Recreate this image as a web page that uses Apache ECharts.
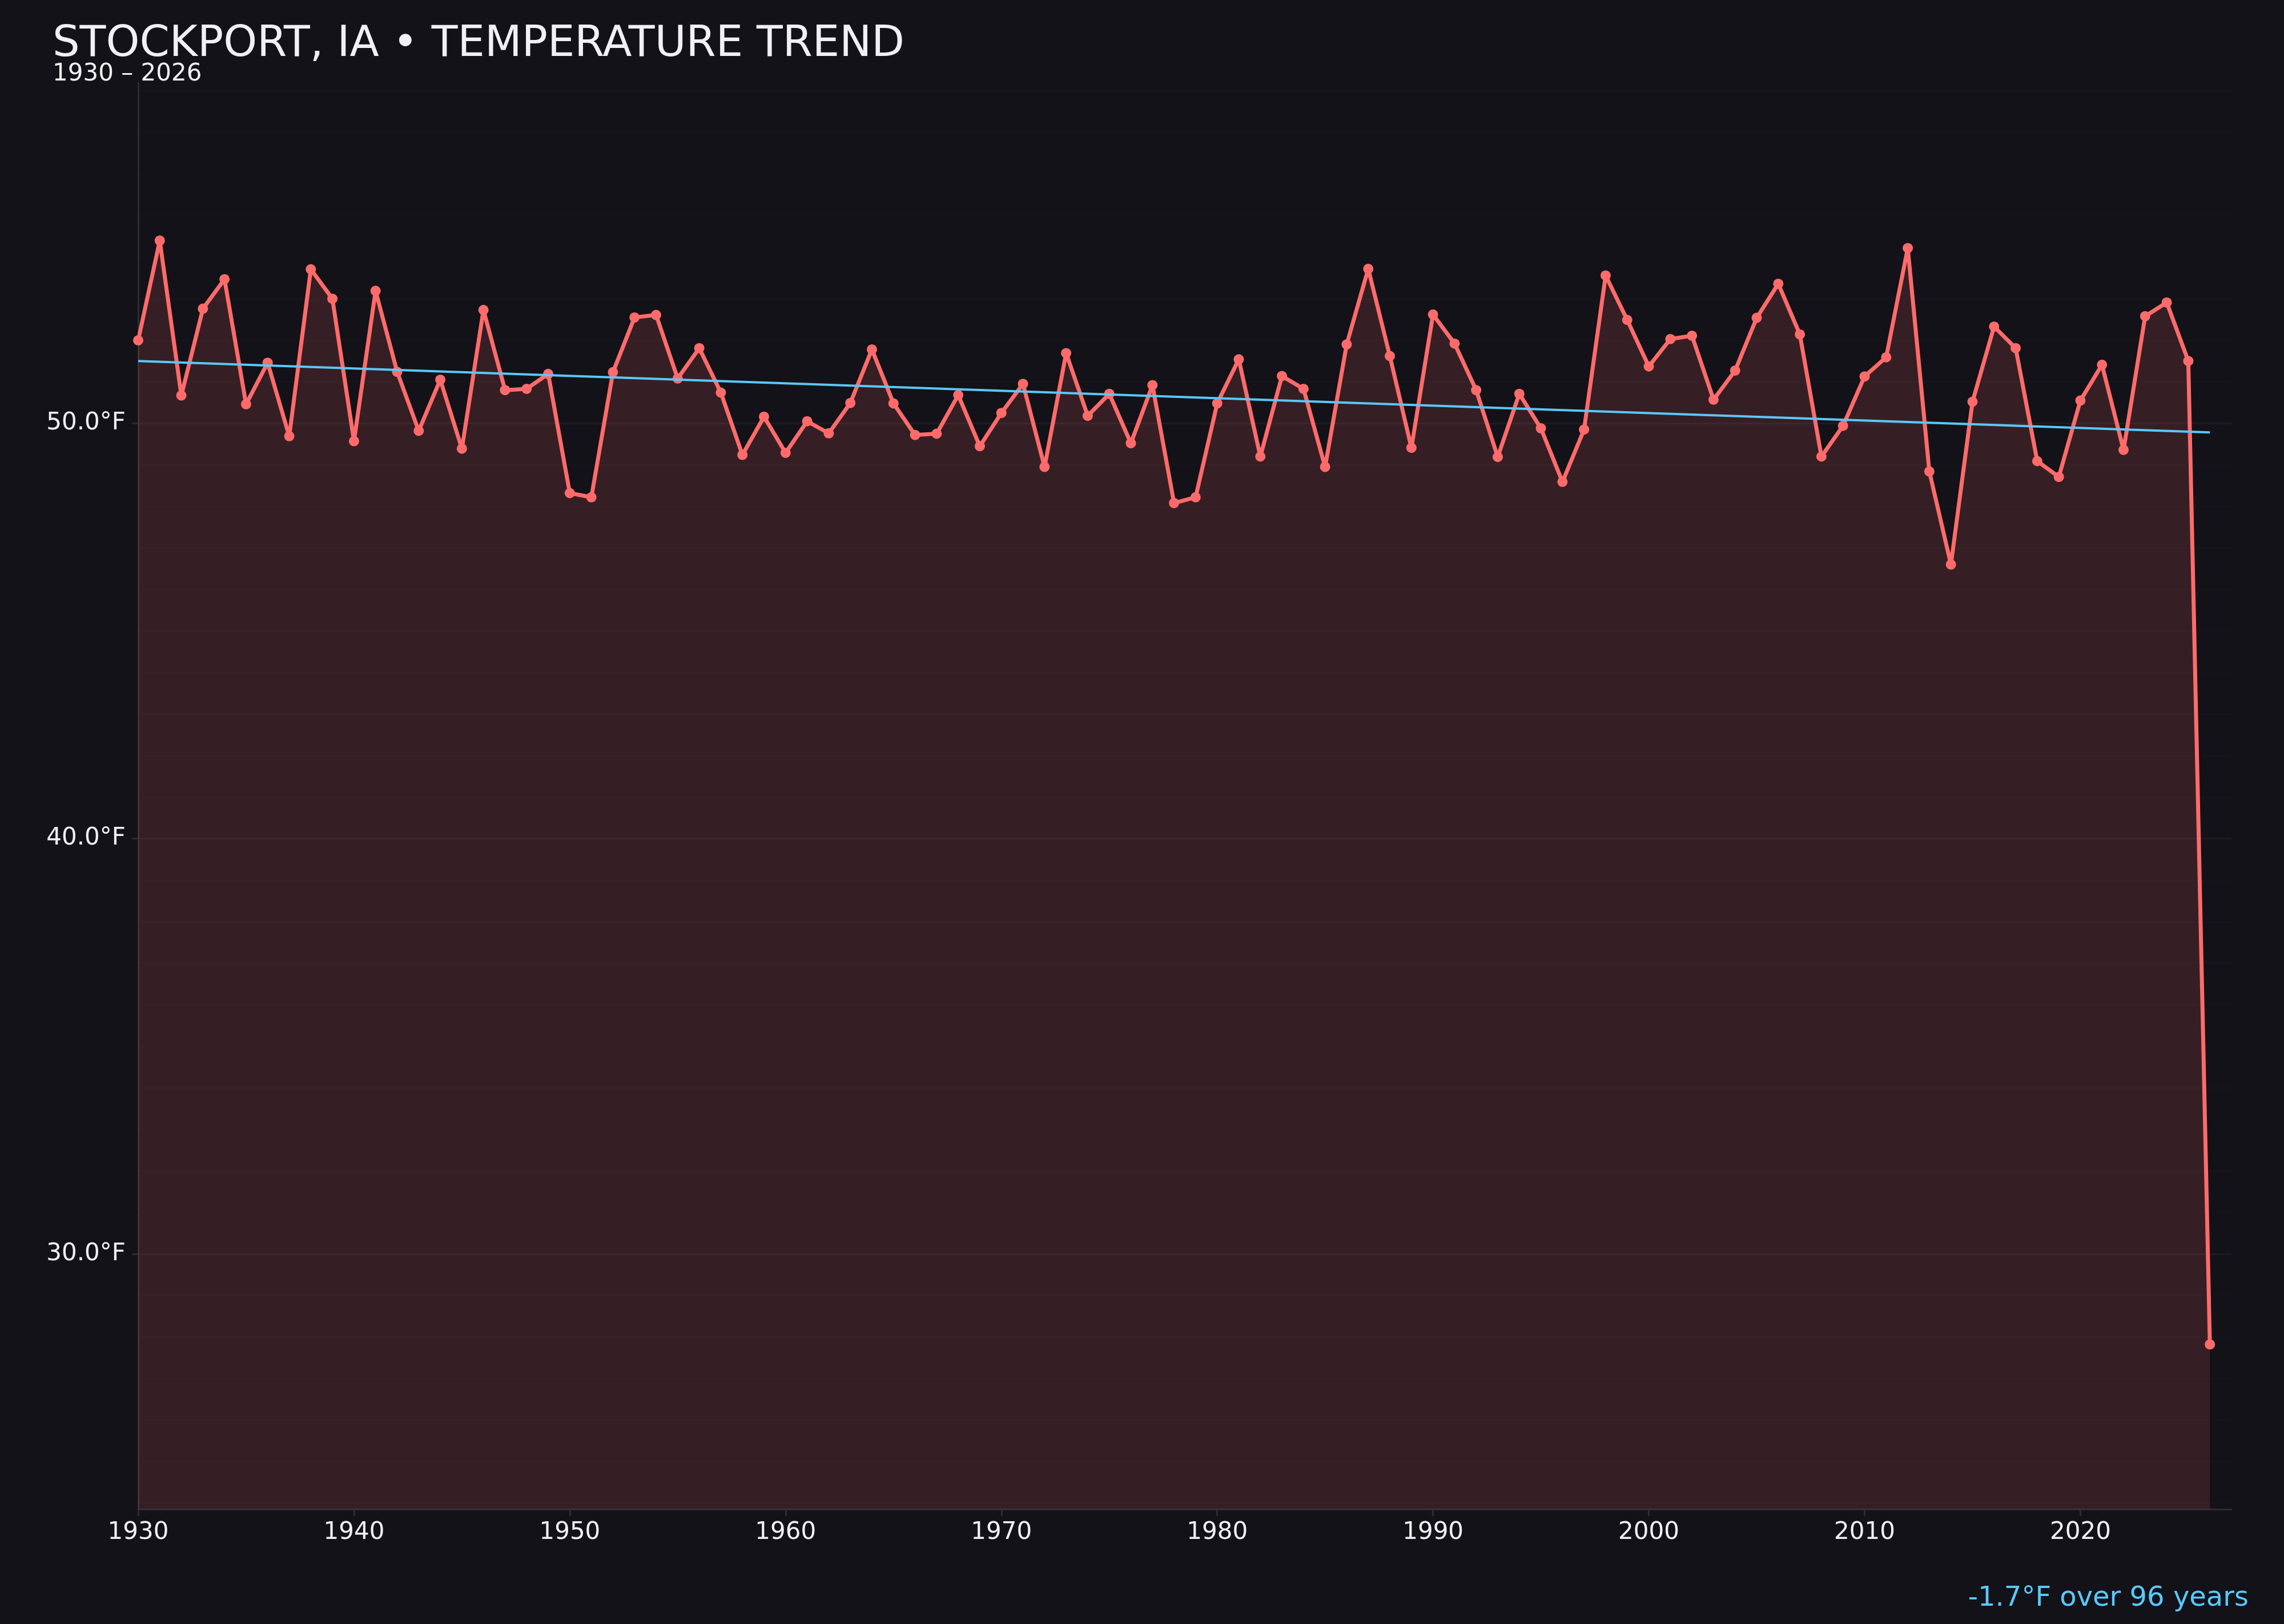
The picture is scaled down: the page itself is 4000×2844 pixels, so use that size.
<!DOCTYPE html>
<html>
<head>
<meta charset="utf-8">
<style>
  html, body { margin: 0; padding: 0; background: #121218; }
  #chartmain { width: 4000px; height: 2844px; }
</style>
<script src="https://cdn.jsdelivr.net/npm/echarts@6/dist/echarts.min.js"></script>
</head>
<body>
<div id="chartmain"></div>
<script>
// yearly mean temperature, 1930 .. 2026
var startYear = 1930;
var temps = [
  52.00, 54.40, 50.67, 52.76, 53.47, 50.46, 51.46, 49.69, 53.71, 53.00,
  49.57, 53.19, 51.24, 49.82, 51.05, 49.39, 52.73, 50.80, 50.83, 51.19,
  48.32, 48.22, 51.23, 52.55, 52.61, 51.08, 51.81, 50.74, 49.24, 50.16,
  49.29, 50.05, 49.76, 50.49, 51.78, 50.48, 49.72, 49.75, 50.68, 49.45,
  50.25, 50.95, 48.95, 51.69, 50.18, 50.71, 49.52, 50.92, 48.08, 48.22,
  50.48, 51.54, 49.20, 51.14, 50.83, 48.95, 51.90, 53.72, 51.62, 49.41,
  52.62, 51.92, 50.80, 49.19, 50.71, 49.88, 48.59, 49.85, 53.56, 52.49,
  51.37, 52.03, 52.11, 50.57, 51.27, 52.54, 53.36, 52.14, 49.20, 49.94,
  51.13, 51.59, 54.22, 48.84, 46.60, 50.52, 52.33, 51.81, 49.09, 48.71,
  50.55, 51.41, 49.36, 52.58, 52.91, 51.50, 27.82
];
// trend line end points
var trendYears = [1930, 2026];
var trendTemps = [51.50, 49.78];

// axis ticks
var yearTicks = [1930, 1940, 1950, 1960, 1970, 1980, 1990, 2000, 2010, 2020];
var tempTicks = [30, 40, 50];
var gridTemps = [];
for (var g = 24; g <= 58; g++) gridTemps.push(g);
var yMin = 23.85, yMax = 58.2;
var xMin = 1930, xMax = 2027;

var tempData = [];
for (var i = 0; i < temps.length; i++) {
  tempData.push([startYear + i, temps[i]]);
}
var trendData = [];
for (var j = 0; j < trendYears.length; j++) {
  trendData.push([trendYears[j], trendTemps[j]]);
}

var font = 'DejaVu Sans';
var axisColor = '#2c2c36';
var textColor = '#f0f0f5';

var option = {
  backgroundColor: '#121218',
  animation: false,
  textStyle: { fontFamily: font },
  grid: { left: 242, right: 92, top: 145, bottom: 201 },
  xAxis: {
    type: 'value',
    min: xMin,
    max: xMax,
    axisLine: { onZero: false, lineStyle: { color: axisColor, width: 3 } },
    axisTick: { customValues: yearTicks, length: 12, lineStyle: { color: axisColor, width: 3 } },
    axisLabel: {
      customValues: yearTicks, color: textColor, fontSize: 42, margin: 20,
      formatter: function (v) { return String(v); }
    },
    splitLine: { show: false }
  },
  yAxis: [{
    type: 'value',
    min: yMin,
    max: yMax,
    axisLine: { show: true, lineStyle: { color: axisColor, width: 3 } },
    axisTick: { show: true, customValues: tempTicks, length: 11, lineStyle: { color: axisColor, width: 3 } },
    axisLabel: {
      customValues: tempTicks,
      color: textColor,
      fontSize: 42,
      margin: 22,
      formatter: function (v) { return v.toFixed(1) + '°F'; }
    },
    splitLine: { show: true, lineStyle: { color: 'rgba(255,255,255,0.035)', width: 3 } }
  }, {
    // only for the faint 1°F grid
    type: 'value',
    min: yMin,
    max: yMax,
    position: 'left',
    axisLine: { show: false },
    axisTick: { show: false, customValues: gridTemps },
    axisLabel: { show: false },
    splitLine: { show: true, lineStyle: { color: 'rgba(255,255,255,0.013)', width: 3 } }
  }],
  series: [{
    name: 'temp',
    type: 'line',
    data: tempData,
    symbol: 'circle',
    symbolSize: 18,
    itemStyle: { color: '#ff6b6b' },
    lineStyle: { color: '#ff6b6b', width: 7 },
    areaStyle: { color: 'rgba(255,107,107,0.15)', opacity: 1, origin: 'start' },
    z: 3
  }, {
    name: 'trend',
    type: 'line',
    data: trendData,
    symbol: 'none',
    lineStyle: { color: '#5ac8fa', width: 4 },
    z: 4
  }],
  graphic: [{
    type: 'text',
    x: 92, y: 79,
    style: { text: 'STOCKPORT, IA • TEMPERATURE TREND', fontSize: 75, fontFamily: font, fill: textColor, align: 'left', verticalAlign: 'middle' }
  }, {
    type: 'text',
    x: 92, y: 130,
    style: { text: '1930 – 2026', fontSize: 42, fontFamily: font, fill: textColor, align: 'left', verticalAlign: 'middle' }
  }, {
    type: 'text',
    x: 3938, y: 2800,
    style: { text: '-1.7°F over 96 years', fontSize: 48, fontFamily: font, fill: '#5ac8fa', align: 'right', verticalAlign: 'middle' }
  }]
};

var myChart = echarts.init(document.getElementById('chartmain'));
myChart.setOption(option);
</script>
</body>
</html>
